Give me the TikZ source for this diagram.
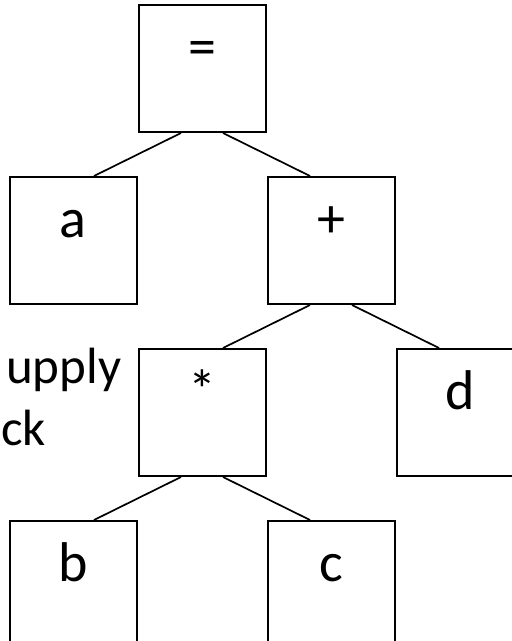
\documentclass[tikz,border=0pt]{standalone}
\usepackage{fontspec}
\setmainfont{Carlito}
\usetikzlibrary{positioning}

\begin{document}
\begin{tikzpicture}[x=1pt, y=-1pt, node distance=43pt and 0pt]
\tikzstyle{opbox} = [rectangle, draw, line width=2pt, minimum width=127pt,
    inner sep=0pt, text height=60pt, text depth=67pt,
    font=\fontsize{56}{66}\selectfont]
\tikzstyle{edge} = [draw, line width=1.7pt]
\tikzstyle{sidetext} = [inner sep=0pt, anchor=base west,
    font=\fontsize{51}{62}\selectfont]

\useasboundingbox (0,0) rectangle (512,641);

\node (eq) [opbox] at (202,68.5) {=};
\node (a) [opbox, below left=of eq] {a};
\node (plus) [opbox, below right=of eq] {+};
\node (times) [opbox, below left=of plus] {*};
\node (d) [opbox, below right=of plus] {d};
\node (b) [opbox, below left=of times] {b};
\node (c) [opbox, below right=of times] {c};

\node (upply) [sidetext] at (6,383) {upply};
\node (ck) [sidetext] at (1,445) {ck};

\path[edge] ([xshift=-21pt]eq.south) -- ([xshift=21pt]a.north);
\path[edge] ([xshift=21pt]eq.south) -- ([xshift=-21pt]plus.north);
\path[edge] ([xshift=-21pt]plus.south) -- ([xshift=21pt]times.north);
\path[edge] ([xshift=21pt]plus.south) -- ([xshift=-21pt]d.north);
\path[edge] ([xshift=-21pt]times.south) -- ([xshift=21pt]b.north);
\path[edge] ([xshift=21pt]times.south) -- ([xshift=-21pt]c.north);
\end{tikzpicture}
\end{document}
